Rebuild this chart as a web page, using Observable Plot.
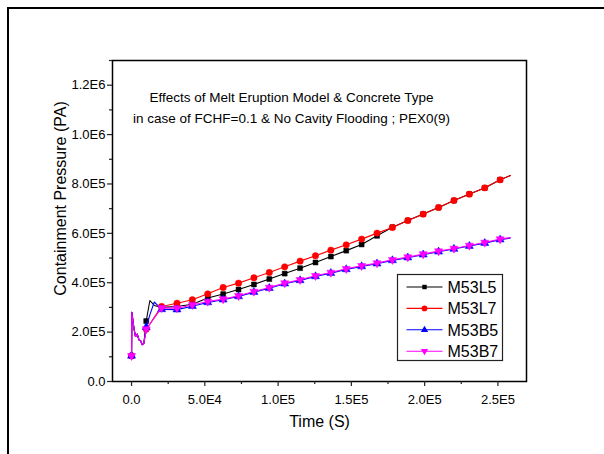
<!DOCTYPE html>
<html><head><meta charset="utf-8">
<script src="https://cdn.jsdelivr.net/npm/d3@7"></script>
<script src="https://cdn.jsdelivr.net/npm/@observablehq/plot@0.6"></script>
<style>
html,body{margin:0;padding:0;background:#fff;font-family:Arial,"Liberation Sans",sans-serif;overflow:hidden}
#page{position:relative;width:604px;height:454px;overflow:hidden;background:#fff}
#chart{position:absolute;left:0;top:0}
#overlay{position:absolute;left:0;top:0}
</style></head><body>
<div id="page"><div id="chart"></div><svg id="overlay" width="604" height="454"></svg></div>
<script>
// ---- data ----
const time = [0, 200, 1600, 2700, 3900, 5000, 6200, 7300, 8400, 10000, 12500, 15500, 20500, 31000, 41500, 52000, 62500, 73000, 83500, 94000, 104500, 115000, 125500, 136000, 146500, 157000, 167500, 178000, 188500, 199000, 209500, 220000, 230500, 241000, 251500, 258500];
const early = [104000, 280000, 216000, 182000, 192000, 169000, 165000, 149000, 155000];
const m53l5 = early.concat([245000, 328000, 308000, 300000, 304000, 313000, 338000, 354000, 372500, 393000, 415000, 437000, 459000, 482000, 506000, 530000, 555000, 590000, 625000, 652000, 678000, 704500, 733000, 759000, 784000, 817000, 834000]);
const m53l7 = early.concat([212000, 233000, 260000, 304000, 317000, 331000, 355000, 380600, 398400, 419900, 441300, 464400, 487500, 509000, 532000, 553500, 576600, 600900, 623500, 651900, 677800, 704500, 732900, 758800, 784300, 816700, 834100]);
const m53b5 = early.concat([220000, 270000, 322000, 292000, 291000, 305000, 320000, 331000, 344500, 362000, 378000, 396000, 409500, 425500, 439000, 454000, 466000, 477000, 490500, 501500, 513500, 525500, 536500, 548500, 560500, 574500, 581000]);
const m53b7 = early.concat([212000, 232000, 257000, 298000, 297000, 310000, 324000, 333600, 347000, 364400, 380600, 398400, 411800, 428000, 441300, 456300, 468500, 479400, 492800, 503700, 515800, 528000, 538500, 550700, 562800, 576600, 583000]);
const markerTimes = [0, 10000, 20500, 31000, 41500, 52000, 62500, 73000, 83500, 94000, 104500, 115000, 125500, 136000, 146500, 157000, 167500, 178000, 188500, 199000, 209500, 220000, 230500, 241000, 251500];
const seriesNames = ["M53L5", "M53L7", "M53B5", "M53B7"];
const seriesValues = [m53l5, m53l7, m53b5, m53b7];
const seriesColors = ["#000000", "#ff0000", "#0000ff", "#ff00ff"];
const xTicks = [0, 50000, 100000, 150000, 200000, 250000];
const xTickLabels = ["0.0", "5.0E4", "1.0E5", "1.5E5", "2.0E5", "2.5E5"];
const xMinor = [25000, 75000, 125000, 175000, 225000];
const yTicks = [0, 200000, 400000, 600000, 800000, 1000000, 1200000];
const yTickLabels = ["0.0", "2.0E5", "4.0E5", "6.0E5", "8.0E5", "1.0E6", "1.2E6"];
const yMinor = [100000, 300000, 500000, 700000, 900000, 1100000, 1300000];
const titleLines = ["Effects of Melt Eruption Model & Concrete Type", "in case of FCHF=0.1 & No Cavity Flooding ; PEX0(9)"];
const xLabel = "Time (S)";
const yLabel = "Containment Pressure (PA)";

// ---- symbols ----
const sqrt3 = Math.sqrt(3);
const triangleDown = {
  draw(context, size) {
    const y = -Math.sqrt(size / (sqrt3 * 3));
    context.moveTo(0, -y * 2);
    context.lineTo(-sqrt3 * y, y);
    context.lineTo(sqrt3 * y, y);
    context.closePath();
  }
};
const seriesSymbols = ["square", "circle", "triangle", triangleDown];
const seriesR = [2.8, 3.2, 3.0, 3.0];

const rows = seriesNames.map((name, s) => time.map((t, i) => ({t, v: seriesValues[s][i], s: name})));
const markerSet = new Set(markerTimes);
const xFmt = new Map(xTicks.map((d, i) => [d, xTickLabels[i]]));
const yFmt = new Map(yTicks.map((d, i) => [d, yTickLabels[i]]));

const marks = [];
seriesNames.forEach((name, s) => {
  marks.push(Plot.line(rows[s], {x: "t", y: "v", stroke: seriesColors[s], strokeWidth: 1.1}));
  marks.push(Plot.dot(rows[s].filter(d => markerSet.has(d.t)), {x: "t", y: "v", symbol: seriesSymbols[s], r: seriesR[s], fill: seriesColors[s], stroke: seriesColors[s], strokeWidth: 0.5}));
});

const chart = Plot.plot({
  width: 604, height: 454,
  marginLeft: 112, marginRight: 78, marginTop: 60, marginBottom: 73,
  style: {fontFamily: "Arial, 'Liberation Sans', sans-serif", background: "transparent", color: "#000"},
  x: {domain: [-13000, 269500]},
  y: {domain: [0, 1300000]},
  marks: [
    ...marks,
    Plot.frame({stroke: "black", strokeWidth: 1.5}),
    Plot.axisX(xTicks, {tickSize: 5, tickPadding: 8, tickFormat: d => xFmt.get(d), fontSize: 13, label: null, stroke: "#222", strokeWidth: 1.2, fill: "#000"}),
    Plot.axisX(xMinor, {tickSize: 3, tickFormat: () => "", label: null, stroke: "#222", strokeWidth: 1.2}),
    Plot.axisY(yTicks, {tickSize: 5, tickPadding: 2, tickFormat: d => yFmt.get(d), fontSize: 13, label: null, stroke: "#222", strokeWidth: 1.2, fill: "#000"}),
    Plot.axisY(yMinor, {tickSize: 3, tickFormat: () => "", label: null, stroke: "#222", strokeWidth: 1.2}),
    Plot.text([titleLines.join("\n")], {frameAnchor: "top", dx: -28, dy: 27, lineAnchor: "top", lineHeight: 1.53, fontSize: 13.5, fill: "#000"}),
    Plot.text([xLabel], {frameAnchor: "bottom", dy: 45.6, fontSize: 16, fill: "#000"}),
    Plot.text([yLabel], {frameAnchor: "left", textAnchor: "middle", dx: -52, dy: -22.5, rotate: -90, fontSize: 16, fill: "#000"})
  ]
});
document.getElementById("chart").appendChild(chart);

// ---- page border and legend ----
const ov = d3.select("#overlay");
ov.append("path").attr("d", "M8,460V8H610").attr("fill", "none").attr("stroke", "#000").attr("stroke-width", 2);
const lg = ov.append("g").attr("transform", "translate(397.5,274.5)");
lg.append("rect").attr("width", 105).attr("height", 86).attr("fill", "#fff").attr("stroke", "#222").attr("stroke-width", 1.2);
seriesNames.forEach((name, s) => {
  const cy = 12.5 + s * 21.4;
  lg.append("line").attr("x1", 9).attr("x2", 45).attr("y1", cy).attr("y2", cy)
    .attr("stroke", seriesColors[s]).attr("stroke-width", 1.1);
  const sym = typeof seriesSymbols[s] === "string"
    ? {square: d3.symbolSquare, circle: d3.symbolCircle, triangle: d3.symbolTriangle}[seriesSymbols[s]]
    : seriesSymbols[s];
  lg.append("path").attr("transform", `translate(27,${cy})`)
    .attr("d", d3.symbol(sym, seriesR[s] * seriesR[s] * Math.PI * 0.8)())
    .attr("fill", seriesColors[s]);
  lg.append("text").attr("x", 50).attr("y", cy + 5.8).text(name)
    .attr("font-size", 16).attr("font-family", "Arial, 'Liberation Sans', sans-serif").attr("fill", "#000");
});
</script>
</body></html>
